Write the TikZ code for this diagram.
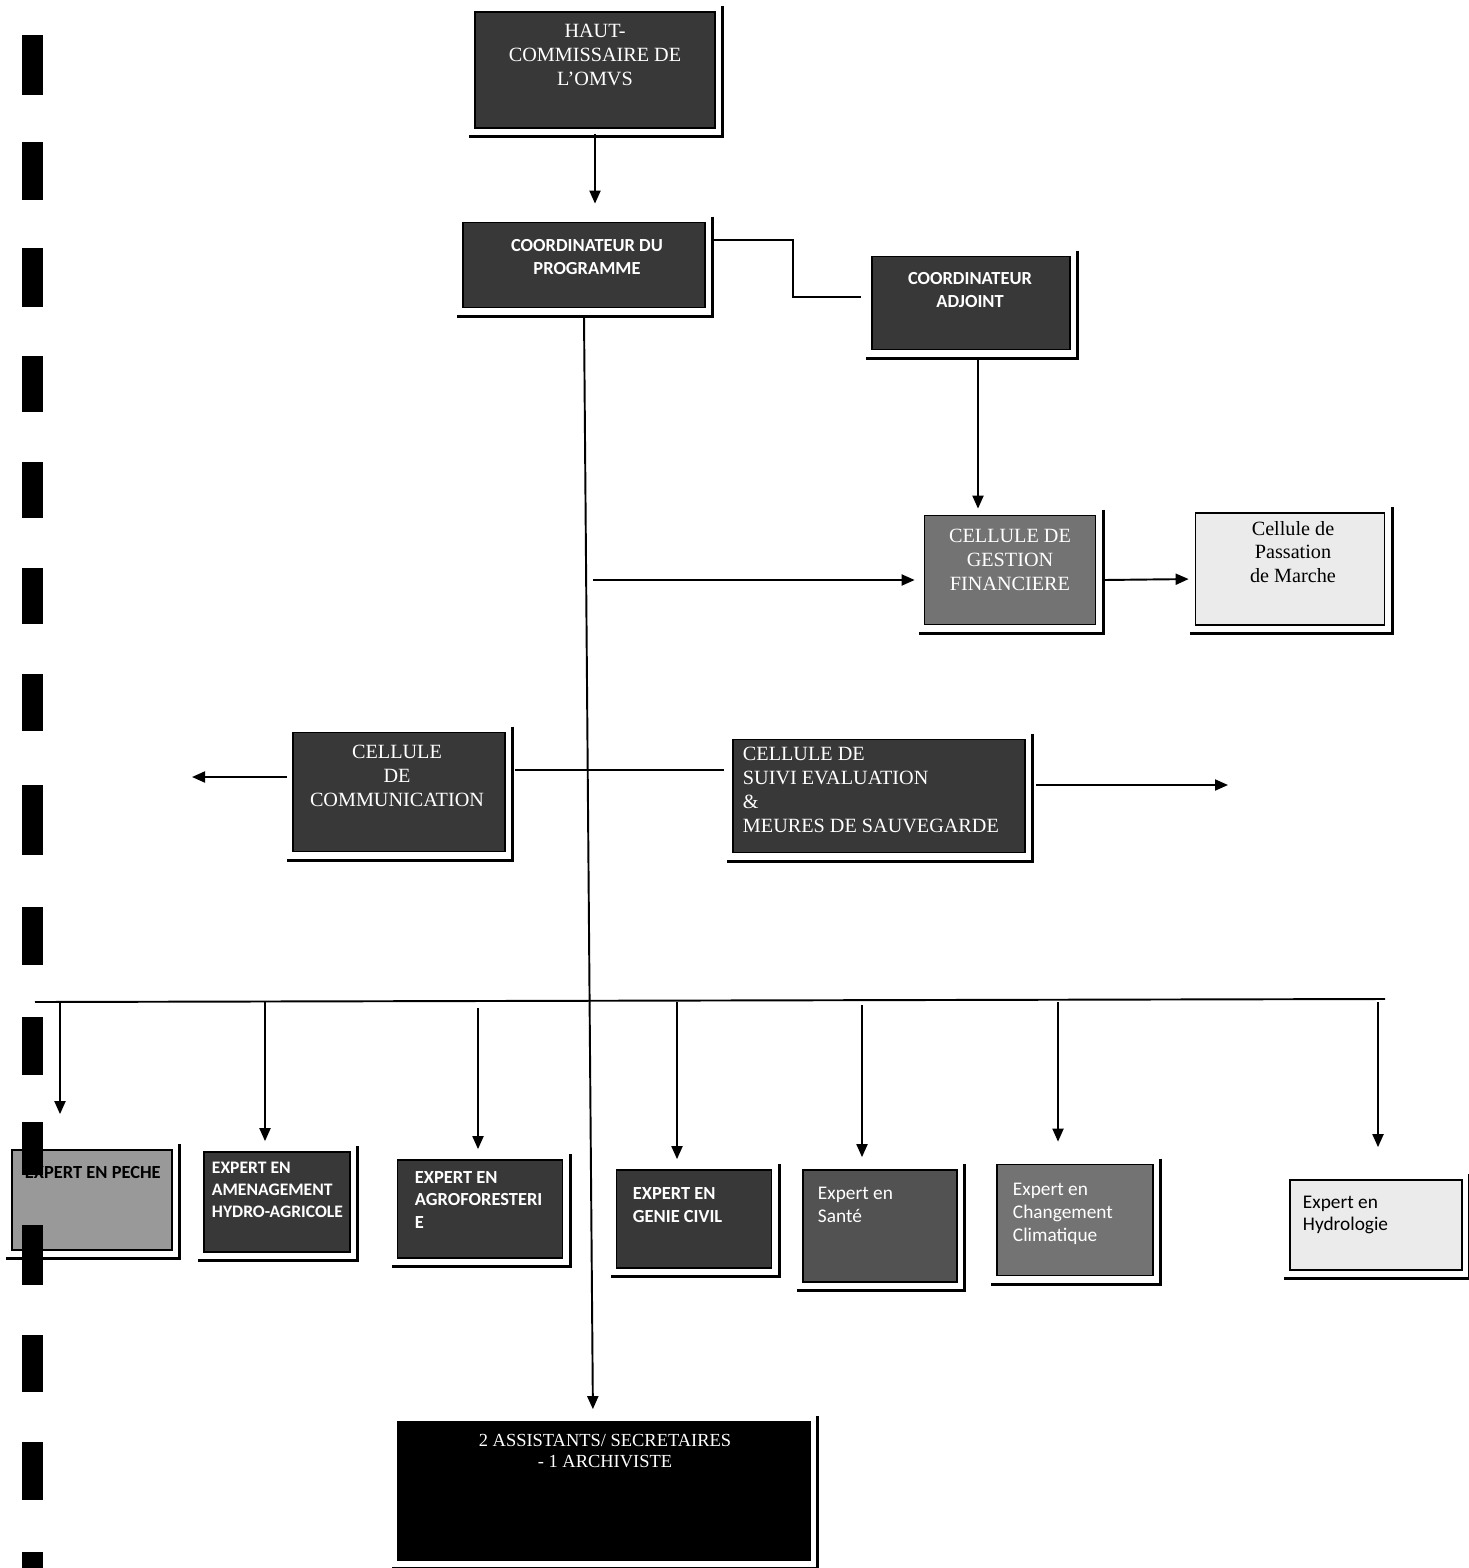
\documentclass[tikz,border=0pt]{standalone}
\usepackage{fontspec}
\setmainfont{Liberation Serif}
\newfontfamily\calib{Carlito}
\usetikzlibrary{arrows.meta}

\begin{document}
\begin{tikzpicture}[x=0.02cm,y=-0.02cm,>={Triangle[length=0.26cm,width=0.22cm]},
 line width=1.1pt,
 dbox/.style={draw=black,line width=1pt,fill=#1},
 dbox/.default=black!78,
 ttl/.style={text=white,align=center,inner sep=0pt,font=\fontsize{11.5}{13.5}\selectfont},
 sans/.style={text=white,align=left,inner sep=0pt,font=\calib\bfseries\fontsize{10.5}{13}\selectfont},
 lite/.style={sans,font=\calib\fontsize{11}{13}\selectfont},
 frameline/.style={line width=1.6pt}]
\useasboundingbox (0,0) rectangle (1468,1568);

% boxes
\node[dbox,minimum width=4.8cm,minimum height=2.32cm] (haut) at (595,70) {};
\node[dbox,minimum width=4.84cm,minimum height=1.7cm] (coord) at (584,265) {};
\node[dbox,minimum width=3.96cm,minimum height=1.86cm] (adjoint) at (971,303) {};
\node[dbox=black!55,minimum width=3.42cm,minimum height=2.18cm] (gestion) at (1010,570) {};
\node[dbox=black!8,minimum width=3.78cm,minimum height=2.24cm] (passation) at (1290,569) {};
\node[dbox,minimum width=4.24cm,minimum height=2.38cm] (comm) at (399,792) {};
\node[dbox,minimum width=5.84cm,minimum height=2.26cm] (suivi) at (879,796) {};
\node[dbox=black!40,minimum width=3.2cm,minimum height=2cm] (peche) at (92,1200) {};
\node[dbox,minimum width=2.92cm,minimum height=2cm] (amenag) at (277,1202) {};
\node[dbox,minimum width=3.3cm,minimum height=1.96cm] (agro) at (480,1209) {};
\node[dbox,minimum width=3.1cm,minimum height=1.96cm] (genie) at (694,1219) {};
\node[dbox=black!68,minimum width=3.08cm,minimum height=2.24cm] (sante) at (880,1226) {};
\node[dbox=black!55,minimum width=3.12cm,minimum height=2.22cm] (climat) at (1075,1220) {};
\node[dbox=black!8,minimum width=3.44cm,minimum height=1.8cm] (hydro) at (1376,1225) {};
\node[dbox=black,minimum width=8.24cm,minimum height=2.76cm] (assist) at (604,1491) {};

% texts
\node[ttl] (haut-t) at (595,55) {HAUT-\\COMMISSAIRE DE\\L'OMVS};
\node[sans,align=center] (coord-t) at (587,257) {COORDINATEUR DU\\PROGRAMME};
\node[sans,align=center] (adjoint-t) at (970,290) {COORDINATEUR\\ADJOINT};
\node[ttl] (gestion-t) at (1010,560) {CELLULE DE\\GESTION\\FINANCIERE};
\node[ttl,text=black] (passation-t) at (1293,552) {Cellule de\\Passation\\de Marche};
\node[ttl] (comm-t) at (397,776) {CELLULE\\DE\\COMMUNICATION};
\node[ttl,align=left,anchor=west] (suivi-t) at (742,790) {CELLULE DE\\SUIVI EVALUATION\\\&\\MEURES DE SAUVEGARDE};
\node[sans,text=black,anchor=west] (peche-t) at (24,1172) {EXPERT EN PECHE};
\node[sans,anchor=west,font=\calib\bfseries\fontsize{10}{12.5}\selectfont] (amenag-t) at (211,1190) {EXPERT EN\\AMENAGEMENT\\HYDRO-AGRICOLE};
\node[sans,anchor=west] (agro-t) at (414,1200) {EXPERT EN\\AGROFORESTERI\\E};
\node[sans,anchor=west] (genie-t) at (632,1205) {EXPERT EN\\GENIE CIVIL};
\node[lite,anchor=west] (sante-t) at (817,1205) {Expert en\\Santé};
\node[lite,anchor=west] (climat-t) at (1012,1214) {Expert en\\Changement\\Climatique};
\node[lite,text=black,anchor=west] (hydro-t) at (1302,1215) {Expert en\\Hydrologie};
\node[ttl,font=\fontsize{10.5}{12}\selectfont] (assist-t) at (605,1451) {2 ASSISTANTS/ SECRETAIRES\\- 1 ARCHIVISTE};

% offset frame lines
\foreach \n in {haut,coord,adjoint,gestion,passation,comm,suivi,peche,amenag,agro,genie,sante,climat,hydro,assist}
  \draw[frameline] ([shift={(0.14cm,0.1cm)}]\n.north east) |- ([shift={(-0.1cm,-0.16cm)}]\n.south west);

% connectors
\coordinate (elbow) at (793,270);
\coordinate (b1) at (593,580);
\coordinate (c2) at (588,770);
\coordinate (wl) at (192,777);
\coordinate (er) at (1228,785);
\coordinate (hl) at (35,1002);
\coordinate (hr) at (1385,999);

\draw[->,shorten >=0.36cm] ([yshift=-0.1cm]haut.south) -- (haut.south |- coord.north);
\draw ([shift={(0.16cm,0.5cm)}]coord.east) -| (elbow) |- ([shift={(-0.2cm,0.12cm)}]adjoint.west);
\draw[->,shorten >=0.12cm] ([shift={(0.14cm,-0.14cm)}]adjoint.south) -- ([xshift=0.14cm]adjoint.south |- gestion.north);
\draw[->,shorten >=0.24cm] ([yshift=-0.14cm]coord.south) -- ([xshift=-0.22cm]assist.north);
\draw[->,shorten >=0.18cm] (b1) -- (b1 -| gestion.west);
\draw[->,shorten >=0.12cm] ([shift={(0.16cm,-0.2cm)}]gestion.east) -- ([yshift=-0.2cm]passation.west);
\draw ([xshift=0.18cm]comm.east |- c2) -- ([xshift=-0.16cm]suivi.west |- c2);
\draw[->] ([xshift=-0.1cm]comm.west |- wl) -- (wl);
\draw[->] ([xshift=0.2cm]suivi.east |- er) -- (er);
\draw (hl) -- (hr);
\foreach \n/\dx/\sa/\ga in {peche/-0.64/0/0.7,amenag/-0.24/0/0.2,agro/-0.04/0.12/0.2,genie/-0.34/0/0.2,
    sante/-0.36/0.06/0.24,climat/-0.34/0/0.44,hydro/0.04/0/0.64}
  \draw[->,shorten <=\sa cm,shorten >=\ga cm] ([xshift=\dx cm]\n.north |- hl) -- ([xshift=\dx cm]\n.north);

% binding marks on the left edge
\foreach \ya/\yb in {35/95,142/200,248/307,356/412,462/518,568/624,674/731,785/855,907/965,
    1017/1075,1122/1175,1225/1285,1335/1392,1442/1500,1552/1568}
  \fill (22,\ya) rectangle (43,\yb);
\end{tikzpicture}
\end{document}
